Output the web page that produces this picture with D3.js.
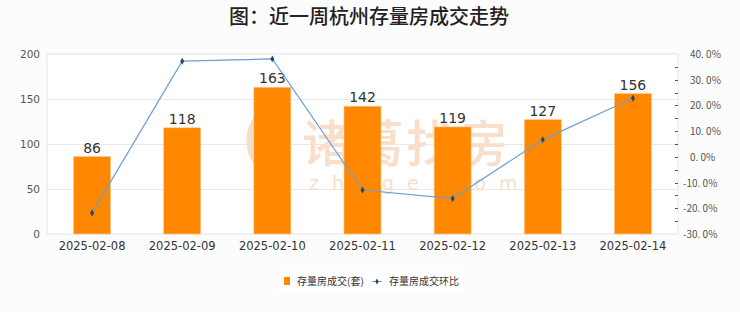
<!DOCTYPE html>
<html>
<head>
    <meta charset="utf-8">
    <script src="https://d3js.org/d3.v7.min.js"></script>
    <style>
        body {
            margin: 0;
            background: #fcfcfc;
            overflow: hidden;
            font-family: "Noto Sans CJK SC", "DejaVu Sans", sans-serif;
        }
    </style>
</head>
<body>
    <div id="chart"></div>
    <script>
        var dates = ["2025-02-08", "2025-02-09", "2025-02-10", "2025-02-11", "2025-02-12", "2025-02-13", "2025-02-14"];
        var deals = [86, 118, 163, 142, 119, 127, 156];
        var ratio = [-21.8, 37.2, 38.1, -12.9, -16.2, 6.7, 22.8];
        var leftTicks = [0, 50, 100, 150, 200];
        var rightTicks = [-30, -20, -10, 0, 10, 20, 30, 40];

        var width = 740, height = 312;
        var margin = { top: 54, right: 62, bottom: 78, left: 47 };
        var x0 = margin.left, x1 = width - margin.right;
        var y0 = height - margin.bottom, y1 = margin.top;

        var svg = d3.select("#chart").append("svg")
            .attr("width", width).attr("height", height);

        var x = d3.scaleBand().domain(dates).range([x0, x1]).paddingInner(0.59).paddingOuter(0.295);
        var y = d3.scaleLinear().domain([0, 200]).range([y0, y1]);
        var yr = d3.scaleLinear().domain([-30, 40]).range([y0, y1]);

        // title
        svg.append("text")
            .attr("x", 369).attr("y", 24)
            .attr("text-anchor", "middle")
            .attr("font-size", 20).attr("font-weight", 500)
            .attr("fill", "#222")
            .text("图：近一周杭州存量房成交走势");

        // plot background + grid
        svg.append("rect")
            .attr("x", x0).attr("y", y1).attr("width", x1 - x0).attr("height", y0 - y1)
            .attr("fill", "#fff").attr("stroke", "#e4e4e4").attr("stroke-width", 1);

        svg.append("g").selectAll("line")
            .data(leftTicks.slice(1, -1))
            .join("line")
            .attr("x1", x0).attr("x2", x1)
            .attr("y1", d => Math.round(y(d)) + 0.5).attr("y2", d => Math.round(y(d)) + 0.5)
            .attr("stroke", "#e8e8e8");

        // watermark
        var wm = svg.append("g").attr("fill", "#f9dfca");
        wm.append("path")
            .attr("d", "M262,108 C244,122 240,150 258,170 C250,150 254,128 262,108 Z M272,108 C290,122 294,150 276,170 C284,150 280,128 272,108 Z M267,118 C262,135 262,155 267,175 C272,155 272,135 267,118 Z");
        wm.append("text")
            .attr("x", 302).attr("y", 162)
            .attr("font-size", 50).attr("font-weight", 500)
            .attr("letter-spacing", 2)
            .text("诸葛找房");
        wm.append("text")
            .attr("x", 309).attr("y", 190)
            .attr("font-size", 19)
            .attr("letter-spacing", 13)
            .attr("font-family", "DejaVu Sans")
            .text("zhuge.com");

        // left axis
        svg.append("g").selectAll("text")
            .data(leftTicks)
            .join("text")
            .attr("x", 40).attr("y", d => y(d) + 4)
            .attr("text-anchor", "end")
            .attr("font-size", 10.5).attr("fill", "#555")
            .attr("font-family", "DejaVu Sans")
            .text(d => d);

        // right axis ticks (major + minor)
        var minor = d3.range(-25, 40, 5);
        svg.append("g").selectAll("line")
            .data(minor)
            .join("line")
            .attr("x1", x1 - 3).attr("x2", x1)
            .attr("y1", d => Math.round(yr(d)) + 0.5).attr("y2", d => Math.round(yr(d)) + 0.5)
            .attr("stroke", "#555");

        svg.append("g").selectAll("text")
            .data(rightTicks)
            .join("text")
            .attr("x", d => d < 0 ? x1 + 5 : x1 + 12)
            .attr("y", d => yr(d) + 4)
            .attr("font-size", 10).attr("fill", "#555")
            .attr("font-family", "Noto Sans CJK JP")
            .text(d => d.toFixed(1).replace(".", ". ") + "%");

        // x labels
        svg.append("g").selectAll("text")
            .data(dates)
            .join("text")
            .attr("x", d => x(d) + x.bandwidth() / 2)
            .attr("y", y0 + 16)
            .attr("text-anchor", "middle")
            .attr("font-size", 11.5).attr("fill", "#333")
            .attr("font-family", "DejaVu Sans")
            .text(d => d);

        // bars
        svg.append("g").selectAll("rect")
            .data(deals)
            .join("rect")
            .attr("x", (d, i) => x(dates[i]))
            .attr("y", d => y(d))
            .attr("width", x.bandwidth())
            .attr("height", d => y0 - y(d))
            .attr("fill", "#ff8800")
            .attr("stroke", "#ffc58a").attr("stroke-width", 0.6);

        svg.append("g").selectAll("text")
            .data(deals)
            .join("text")
            .attr("x", (d, i) => x(dates[i]) + x.bandwidth() / 2)
            .attr("y", d => y(d) - 4)
            .attr("text-anchor", "middle")
            .attr("font-size", 14).attr("fill", "#333")
            .attr("font-family", "DejaVu Sans")
            .text(d => d);

        // ratio line
        var line = d3.line()
            .x((d, i) => x(dates[i]) + x.bandwidth() / 2)
            .y(d => yr(d));

        svg.append("path")
            .datum(ratio)
            .attr("d", line)
            .attr("fill", "none")
            .attr("stroke", "#6c9fd2").attr("stroke-width", 1.2);

        svg.append("g").selectAll("path")
            .data(ratio)
            .join("path")
            .attr("transform", (d, i) => `translate(${x(dates[i]) + x.bandwidth() / 2},${yr(d)})`)
            .attr("d", d3.symbol(d3.symbolDiamond, 14))
            .attr("fill", "#24476b");

        // legend
        var lg = svg.append("g");
        lg.append("rect")
            .attr("x", 279).attr("y", 271).attr("width", 183).attr("height", 20)
            .attr("fill", "#fff");
        lg.append("rect")
            .attr("x", 284).attr("y", 277).attr("width", 6).attr("height", 8)
            .attr("fill", "#ff8800");
        lg.append("text")
            .attr("x", 297).attr("y", 285)
            .attr("font-size", 10).attr("fill", "#333")
            .text("存量房成交(套)");
        lg.append("line")
            .attr("x1", 372).attr("x2", 382).attr("y1", 281.5).attr("y2", 281.5)
            .attr("stroke", "#6c9fd2");
        lg.append("path")
            .attr("transform", "translate(377,281.5)")
            .attr("d", d3.symbol(d3.symbolDiamond, 10))
            .attr("fill", "#24476b");
        lg.append("text")
            .attr("x", 389).attr("y", 285)
            .attr("font-size", 10).attr("fill", "#333")
            .text("存量房成交环比");
    </script>
</body>
</html>
